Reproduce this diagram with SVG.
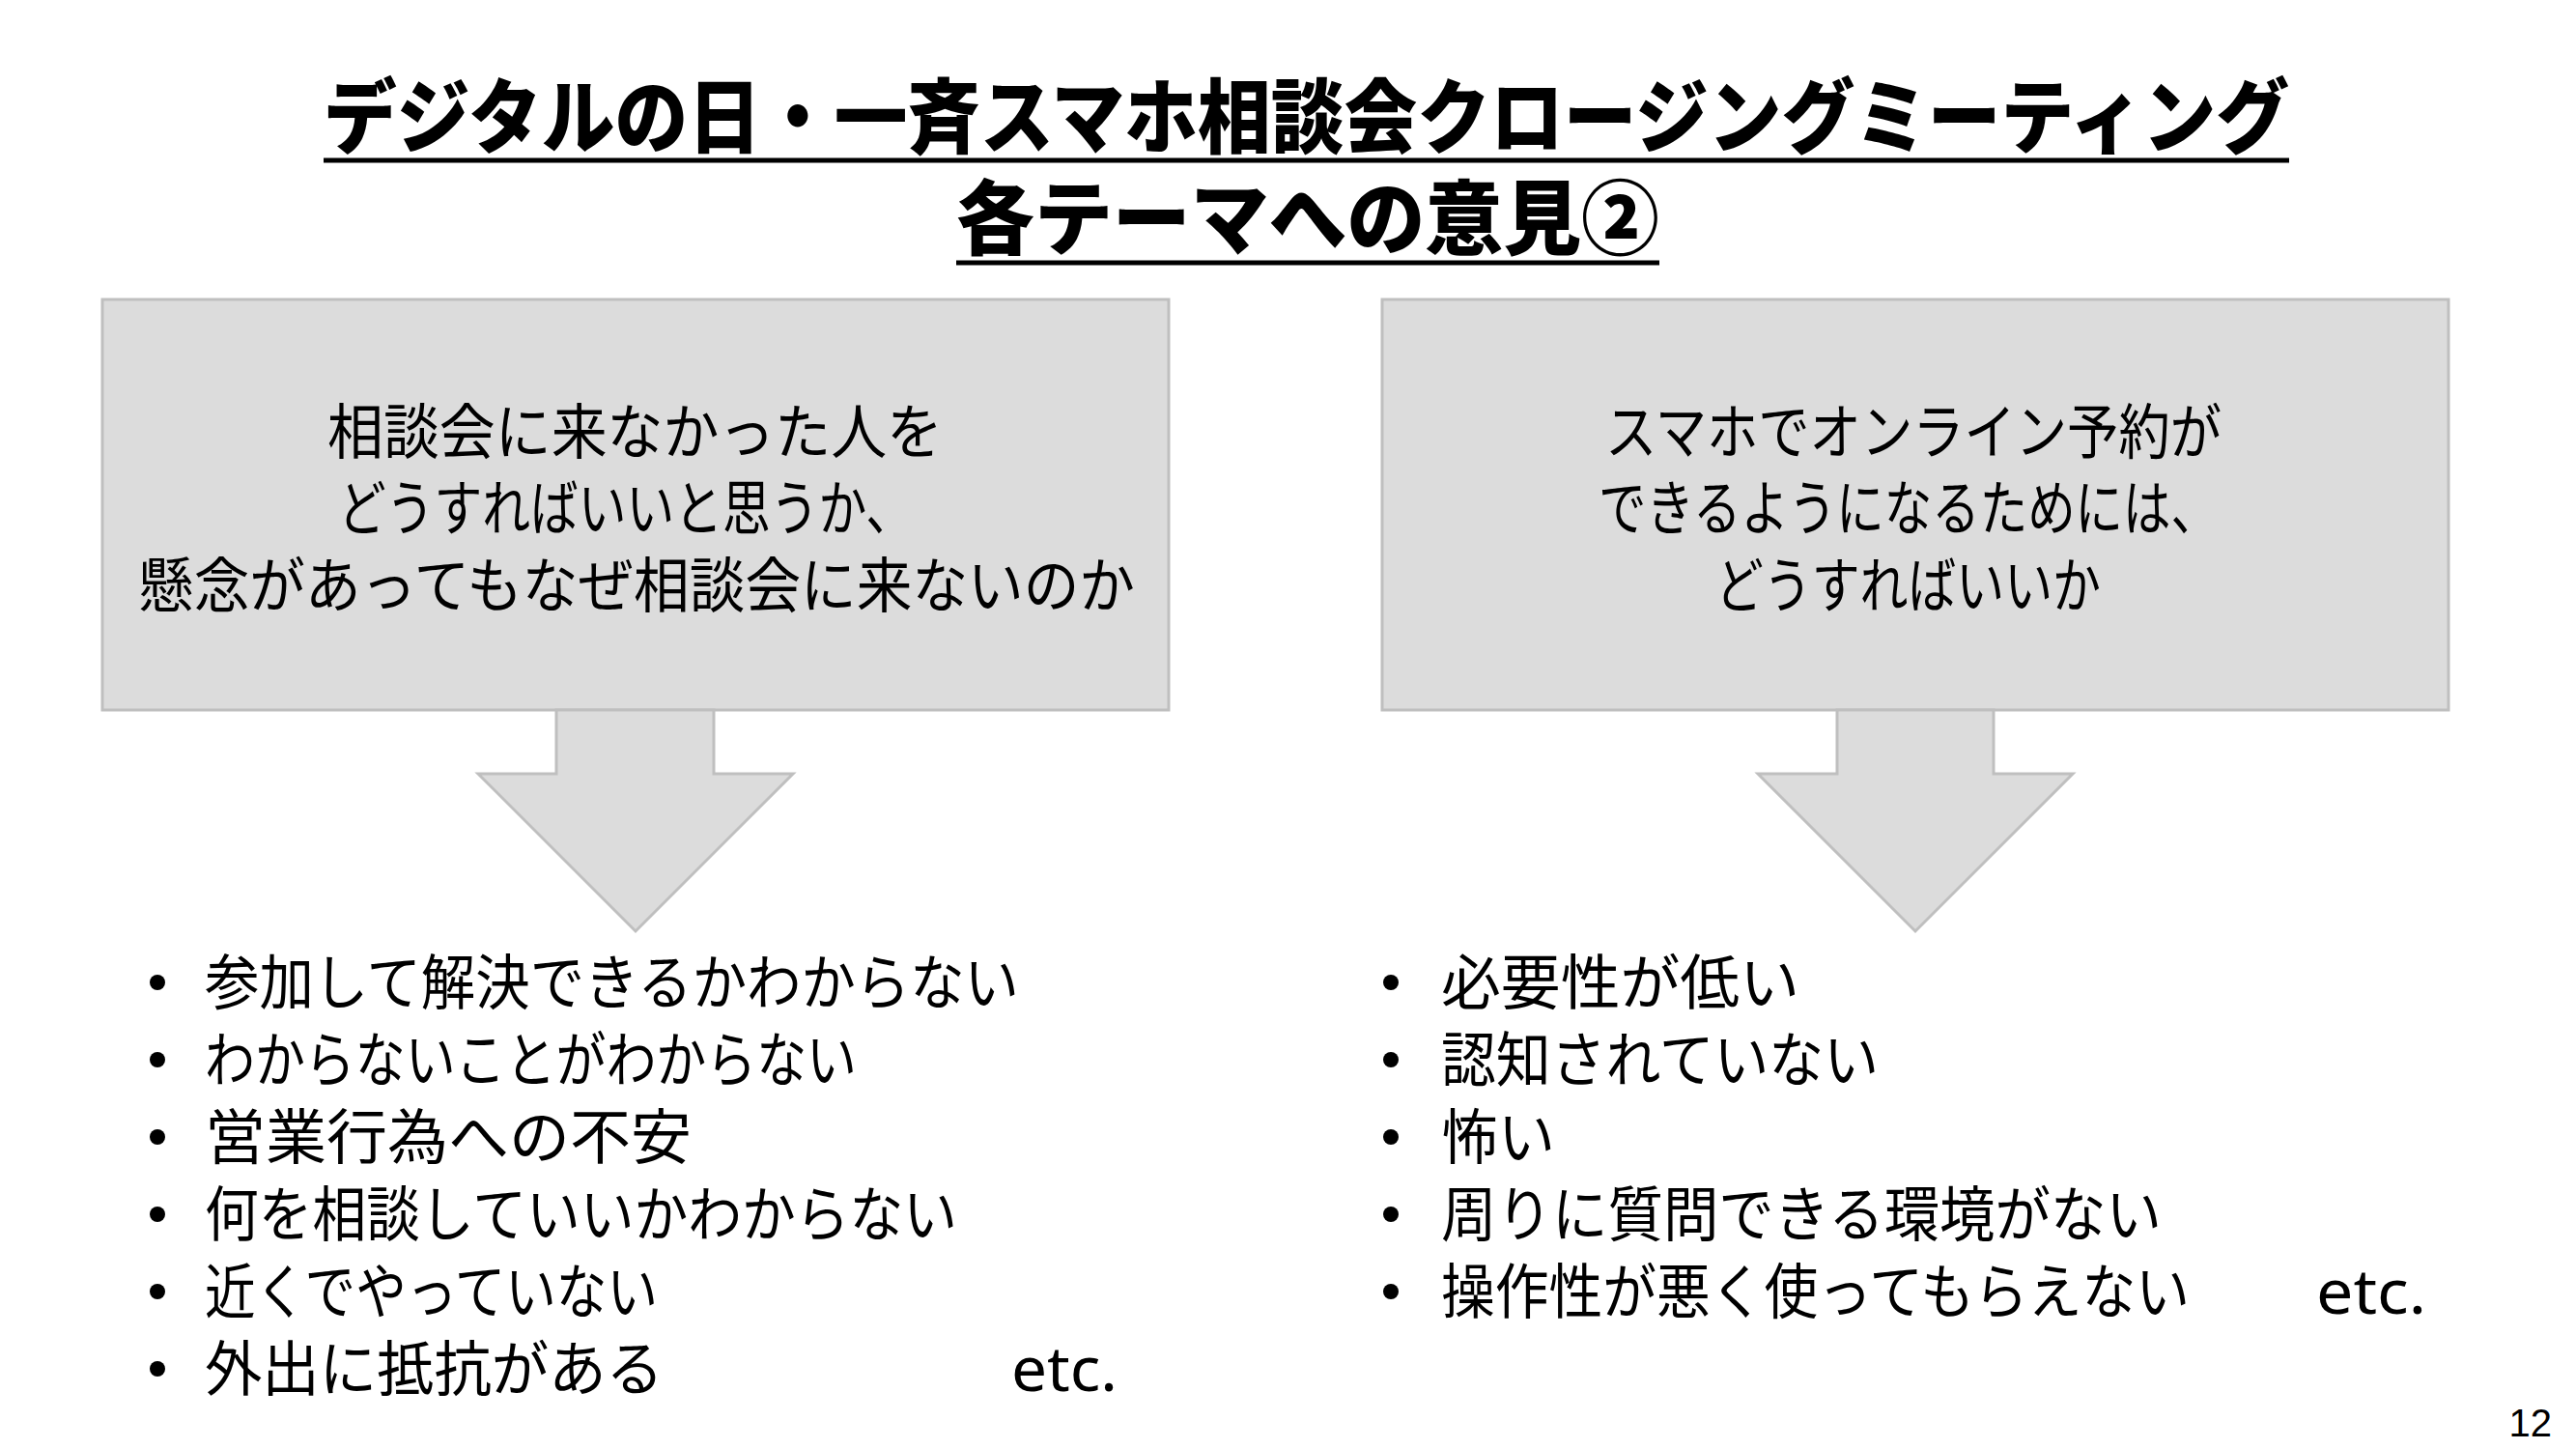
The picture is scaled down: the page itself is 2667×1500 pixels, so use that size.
<svg xmlns="http://www.w3.org/2000/svg" width="2667" height="1500" viewBox="0 0 2667 1500">
<style>
.title{font-family:"Noto Sans CJK JP","Noto Sans",sans-serif;font-weight:900;font-size:84px;fill:#000}
.box{fill:#DCDCDC;stroke:#BFBFBF;stroke-width:3}
.bt{font-family:"Noto Sans CJK JP","Noto Sans",sans-serif;font-size:62px;fill:#000}
.li{font-family:"Noto Sans CJK JP","Noto Sans",sans-serif;font-size:62px;fill:#000}
.etc{font-family:"Noto Sans","Liberation Sans",sans-serif;font-size:64px;fill:#000}
.pg{font-family:"Liberation Sans",Arial,sans-serif;font-size:40px;fill:#000}
.ul{stroke:#000;stroke-width:5}
</style>
<rect width="2667" height="1500" fill="#fff"/>
<g id="title">
<text class="title" x="335" y="152" textLength="2035" lengthAdjust="spacingAndGlyphs">デジタルの日・一斉スマホ相談会クロージングミーティング</text>
<line class="ul" x1="335" y1="166" x2="2370" y2="166"/>
<text class="title" x="990" y="257" textLength="728" lengthAdjust="spacingAndGlyphs">各テーマへの意見②</text>
<line class="ul" x1="990" y1="272" x2="1718" y2="272"/>
</g>
<g id="box-left">
<rect class="box" x="106" y="310" width="1104" height="425"/>
<text class="bt" x="339" y="470" textLength="637" lengthAdjust="spacingAndGlyphs">相談会に来なかった人を</text>
<text class="bt" x="350" y="549" textLength="596" lengthAdjust="spacingAndGlyphs">どうすればいいと思うか、</text>
<text class="bt" x="143" y="629" textLength="1032" lengthAdjust="spacingAndGlyphs">懸念があってもなぜ相談会に来ないのか</text>
</g>
<g id="box-right">
<rect class="box" x="1431" y="310" width="1104" height="425"/>
<text class="bt" x="1662" y="470" textLength="638" lengthAdjust="spacingAndGlyphs">スマホでオンライン予約が</text>
<text class="bt" x="1655" y="549" textLength="642" lengthAdjust="spacingAndGlyphs">できるようになるためには、</text>
<text class="bt" x="1776" y="629" textLength="399" lengthAdjust="spacingAndGlyphs">どうすればいいか</text>
</g>
<g id="connectors">
<polygon class="box" points="576,735 739,735 739,801 821,801 658,964 495,801 576,801"/>
<polygon class="box" points="1902,735 2064,735 2064,801 2146,801 1983,964 1820,801 1902,801"/>
</g>
<g id="list-left">
<circle cx="163" cy="1017" r="8"/>
<circle cx="163" cy="1097" r="8"/>
<circle cx="163" cy="1177" r="8"/>
<circle cx="163" cy="1257" r="8"/>
<circle cx="163" cy="1337" r="8"/>
<circle cx="163" cy="1417" r="8"/>
<text class="li" x="212" y="1040" textLength="843" lengthAdjust="spacingAndGlyphs">参加して解決できるかわからない</text>
<text class="li" x="212" y="1120" textLength="675" lengthAdjust="spacingAndGlyphs">わからないことがわからない</text>
<text class="li" x="212" y="1200" textLength="504" lengthAdjust="spacingAndGlyphs">営業行為への不安</text>
<text class="li" x="212" y="1280" textLength="779" lengthAdjust="spacingAndGlyphs">何を相談していいかわからない</text>
<text class="li" x="212" y="1360" textLength="469" lengthAdjust="spacingAndGlyphs">近くでやっていない</text>
<text class="li" x="212" y="1440" textLength="475" lengthAdjust="spacingAndGlyphs">外出に抵抗がある</text>
<text class="etc" x="1047" y="1440" textLength="110" lengthAdjust="spacingAndGlyphs">etc.</text>
</g>
<g id="list-right">
<circle cx="1440" cy="1017" r="8"/>
<circle cx="1440" cy="1097" r="8"/>
<circle cx="1440" cy="1177" r="8"/>
<circle cx="1440" cy="1257" r="8"/>
<circle cx="1440" cy="1337" r="8"/>
<text class="li" x="1492" y="1040" textLength="371" lengthAdjust="spacingAndGlyphs">必要性が低い</text>
<text class="li" x="1492" y="1120" textLength="453" lengthAdjust="spacingAndGlyphs">認知されていない</text>
<text class="li" x="1492" y="1200" textLength="118" lengthAdjust="spacingAndGlyphs">怖い</text>
<text class="li" x="1492" y="1280" textLength="746" lengthAdjust="spacingAndGlyphs">周りに質問できる環境がない</text>
<text class="li" x="1492" y="1360" textLength="775" lengthAdjust="spacingAndGlyphs">操作性が悪く使ってもらえない</text>
<text class="etc" x="2398" y="1360" textLength="114" lengthAdjust="spacingAndGlyphs">etc.</text>
</g>
<g id="page">
<text class="pg" x="2642" y="1487" text-anchor="end">12</text>
</g>
</svg>
